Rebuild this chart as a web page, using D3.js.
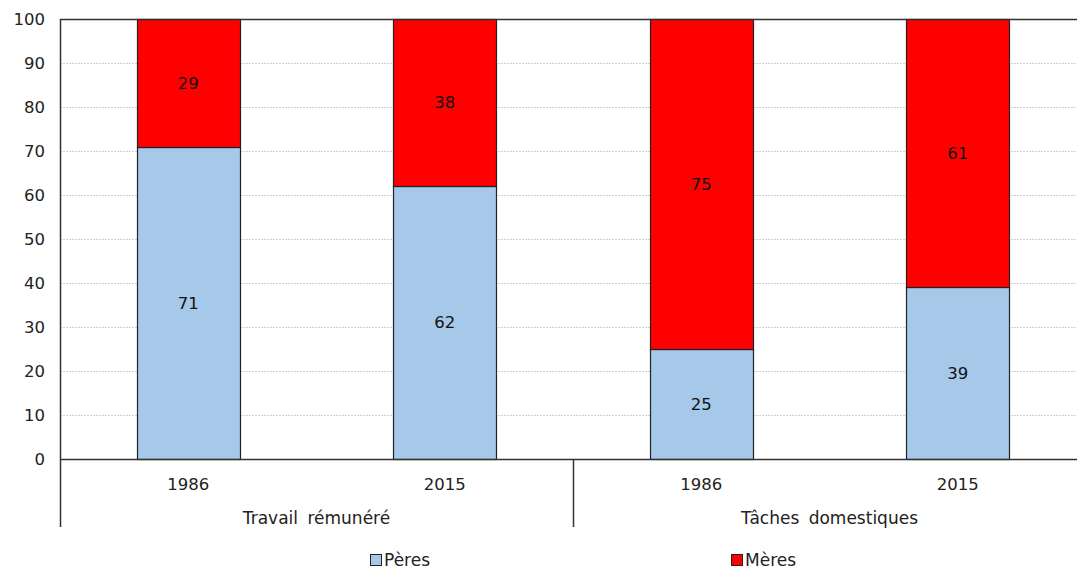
<!DOCTYPE html>
<meta charset="utf-8">
<script src="https://d3js.org/d3.v7.min.js"></script>
<style>
  body { margin: 0; background: #fff; }
  text { font-family: "DejaVu Sans", Verdana, sans-serif; fill: #222; }
</style>
<div id="chart"></div>
<script>
  // data
  var groups = ["Travail rémunéré", "Tâches domestiques"];
  var years = ["1986", "2015", "1986", "2015"];
  var peres = [71, 62, 25, 39];
  var meres = [29, 38, 75, 61];
  var seriesNames = ["Pères", "Mères"];
  var colors = ["#a6c8e9", "#ff0000"];
  var yTicks = [0, 10, 20, 30, 40, 50, 60, 70, 80, 90, 100];

  var W = 1077, H = 569;
  var margin = {top: 19, left: 60, bottom: 110};
  var plotBottom = 459;
  var fs = "16.5px";

  var svg = d3.select("#chart").append("svg")
      .attr("width", W).attr("height", H);

  var idx = d3.range(years.length);
  var x = d3.scaleBand().domain(idx).range([60, 1086]).paddingInner(0.6).paddingOuter(0.3);
  var step = x.step();
  var y = d3.scaleLinear().domain([0, 100]).range([plotBottom, margin.top]);

  // gridlines
  svg.append("g").selectAll("line").data(yTicks.slice(1, -1)).enter().append("line")
      .attr("x1", 60).attr("x2", W)
      .attr("y1", function(d) { return y(d) + 0.5; })
      .attr("y2", function(d) { return y(d) + 0.5; })
      .attr("stroke", "#d0d0d0").attr("stroke-dasharray", "2,1");

  // y axis labels
  svg.append("g").selectAll("text").data(yTicks).enter().append("text")
      .attr("x", 45).attr("y", function(d) { return y(d); })
      .attr("dy", "0.35em").attr("text-anchor", "end")
      .style("font-size", fs)
      .text(function(d) { return d; });

  // stacked bars
  var stacks = idx.map(function(i) {
    return [{v0: 0, v1: peres[i], s: 0, i: i}, {v0: peres[i], v1: peres[i] + meres[i], s: 1, i: i}];
  });
  var segs = [].concat.apply([], stacks);

  svg.append("g").selectAll("rect").data(segs).enter().append("rect")
      .attr("x", function(d) { return Math.round(x(d.i)) + 0.5; })
      .attr("y", function(d) { return Math.round(y(d.v1)) + 0.5; })
      .attr("width", Math.round(x.bandwidth()))
      .attr("height", function(d) { return Math.round(y(d.v0)) - Math.round(y(d.v1)); })
      .attr("fill", function(d) { return colors[d.s]; })
      .attr("stroke", "#222").attr("stroke-width", 1.2);

  svg.append("g").selectAll("text").data(segs).enter().append("text")
      .attr("x", function(d) { return x(d.i) + x.bandwidth() / 2; })
      .attr("y", function(d) { return y((d.v0 + d.v1) / 2); })
      .attr("dy", "0.35em").attr("text-anchor", "middle")
      .style("font-size", fs).style("fill", "#111")
      .text(function(d) { return d.v1 - d.v0; });

  // plot frame: top + left + baseline
  svg.append("line").attr("x1", 60).attr("x2", W).attr("y1", margin.top + 0.5).attr("y2", margin.top + 0.5)
      .attr("stroke", "#333").attr("stroke-width", 1.5);
  svg.append("line").attr("x1", 60).attr("x2", W).attr("y1", plotBottom + 0.5).attr("y2", plotBottom + 0.5)
      .attr("stroke", "#333").attr("stroke-width", 1.5);
  svg.append("line").attr("x1", 60.5).attr("x2", 60.5).attr("y1", margin.top).attr("y2", 527)
      .attr("stroke", "#333").attr("stroke-width", 1.5);
  // group separator
  svg.append("line").attr("x1", 60 + 2 * step + 0.5).attr("x2", 60 + 2 * step + 0.5)
      .attr("y1", plotBottom).attr("y2", 527)
      .attr("stroke", "#333").attr("stroke-width", 1.5);

  // year labels
  svg.append("g").selectAll("text").data(idx).enter().append("text")
      .attr("x", function(i) { return x(i) + x.bandwidth() / 2; })
      .attr("y", 484).attr("dy", "0.35em").attr("text-anchor", "middle")
      .style("font-size", fs)
      .text(function(i) { return years[i]; });

  // group labels
  svg.append("g").selectAll("text").data(groups).enter().append("text")
      .attr("x", function(d, g) { return 60 + step * (2 * g + 1); })
      .attr("y", 518).attr("dy", "0.35em").attr("text-anchor", "middle")
      .style("font-size", "17px").style("word-spacing", "4px")
      .text(function(d) { return d; });

  // legend
  var legX = [370, 731];
  var leg = svg.append("g").selectAll("g").data(seriesNames).enter().append("g")
      .attr("transform", function(d, i) { return "translate(" + legX[i] + ",554)"; });
  leg.append("rect").attr("x", 0.5).attr("y", 0.5).attr("width", 11).attr("height", 11)
      .attr("fill", function(d, i) { return colors[i]; })
      .attr("stroke", "#222");
  leg.append("text").attr("x", 14).attr("y", 6).attr("dy", "0.35em")
      .style("font-size", "17px")
      .text(function(d) { return d; });
</script>
